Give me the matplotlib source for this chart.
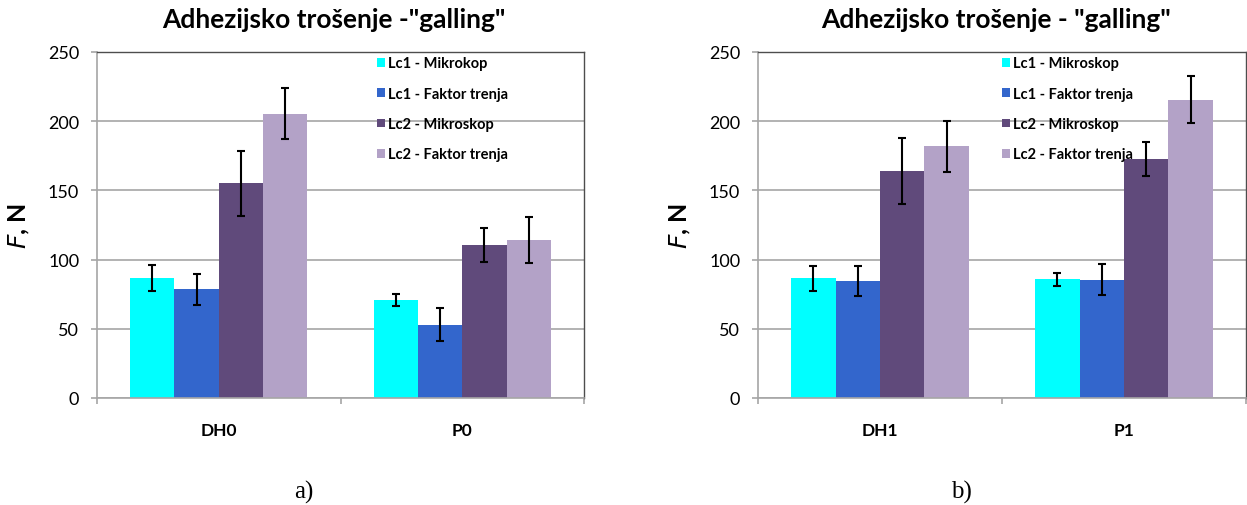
import numpy as np
import matplotlib
matplotlib.use("Agg")
import matplotlib.pyplot as plt

plt.rcParams['font.family'] = ['Lato', 'DejaVu Sans']

# --- Données ---
series = ["Lc1 - Mikrokop", "Lc1 - Faktor trenja", "Lc2 - Mikroskop", "Lc2 - Faktor trenja"]
series_b = ["Lc1 - Mikroskop", "Lc1 - Faktor trenja", "Lc2 - Mikroskop", "Lc2 - Faktor trenja"]
colors = ["#00FFFF", "#3366CC", "#604A7B", "#B3A2C7"]

cats_a = ["DH0", "P0"]
vals_a = [[86.5, 71.0], [78.4, 52.9], [155.0, 110.8], [205.4, 113.9]]
errs_a = [[9.3, 4.5], [11.0, 12.0], [23.5, 12.3], [18.5, 16.7]]

cats_b = ["DH1", "P1"]
vals_b = [[86.5, 85.8], [84.4, 85.6], [164.3, 172.7], [181.8, 215.6]]
errs_b = [[9.0, 4.8], [10.7, 11.5], [23.8, 12.5], [18.5, 16.8]]

yticks = [0, 50, 100, 150, 200, 250]

W, H = 1247, 506
fig = plt.figure(figsize=(W / 100, H / 100), dpi=100)


def panneau(x0, x1, cats, vals, errs, labels, titre, lettre, lettre_x, leg_x):
    ax = fig.add_axes([x0 / W, 1 - 399 / H, (x1 - x0) / W, (399 - 53) / H])
    n = len(cats)
    bw = 1 / 5.5
    x = np.arange(n) + 0.5
    for i in range(4):
        pos = x + (i - 1.5) * bw
        ax.bar(pos, vals[i], bw, color=colors[i], label=labels[i], zorder=2)
        ax.errorbar(pos, vals[i], yerr=errs[i], fmt="none", ecolor="black",
                    elinewidth=1.5, capsize=3, capthick=1.5, zorder=3)
    ax.set_xlim(0, n)
    ax.set_ylim(0, 250)
    ax.set_yticks(yticks)
    ax.set_yticklabels([str(v) for v in yticks], fontsize=13)
    ax.yaxis.grid(True, color="#A6A6A6", linewidth=1.2, zorder=0)
    ax.set_axisbelow(True)
    ax.set_xticks(x)
    ax.set_xticklabels(cats, fontsize=12.5, fontweight="bold")
    ax.tick_params(axis="x", which="major", length=0, pad=17)
    ax.set_xticks(np.arange(n + 1), minor=True)
    ax.tick_params(axis="x", which="minor", length=4.5, color="#A6A6A6", width=1.2, direction="out")
    ax.tick_params(axis="y", length=4.3, color="#A6A6A6", width=1.2, pad=8.5)
    for s in ["left", "bottom"]:
        ax.spines[s].set_color("#A6A6A6")
        ax.spines[s].set_linewidth(1.2)
    for s in ["top", "right"]:
        ax.spines[s].set_color("#4D4D4D")
        ax.spines[s].set_linewidth(1.0)
    ax.set_ylabel(r"$\bf{\it{F}}$, N", fontsize=18, fontweight="bold")
    ax.yaxis.set_label_coords(-0.133, 0.5)
    leg = ax.legend(loc="upper left", bbox_to_anchor=((leg_x - x0) / (x1 - x0), 1.004),
                    frameon=False, fontsize=10.5, handlelength=0.55, handleheight=0.55,
                    handletextpad=0.2, labelspacing=1.12, borderaxespad=0)
    for t in leg.get_texts():
        t.set_fontweight("bold")
    # titre centré (à peu près) sur la zone de tracé
    ax.set_title(titre, fontsize=19, fontweight="bold", pad=18, x=0.487)
    fig.text(lettre_x / W, 1 - 492 / H, lettre, ha="center", va="center",
             fontsize=18, family="Liberation Serif")
    return ax


ax1 = panneau(97, 584, cats_a, vals_a, errs_a, series,
              'Adhezijsko trošenje -"galling"', "a)", 304, 371)
ax2 = panneau(758, 1246, cats_b, vals_b, errs_b, series_b,
              'Adhezijsko trošenje - "galling"', "b)", 961, 996)

fig.savefig("out.png", dpi=100, facecolor="white")
